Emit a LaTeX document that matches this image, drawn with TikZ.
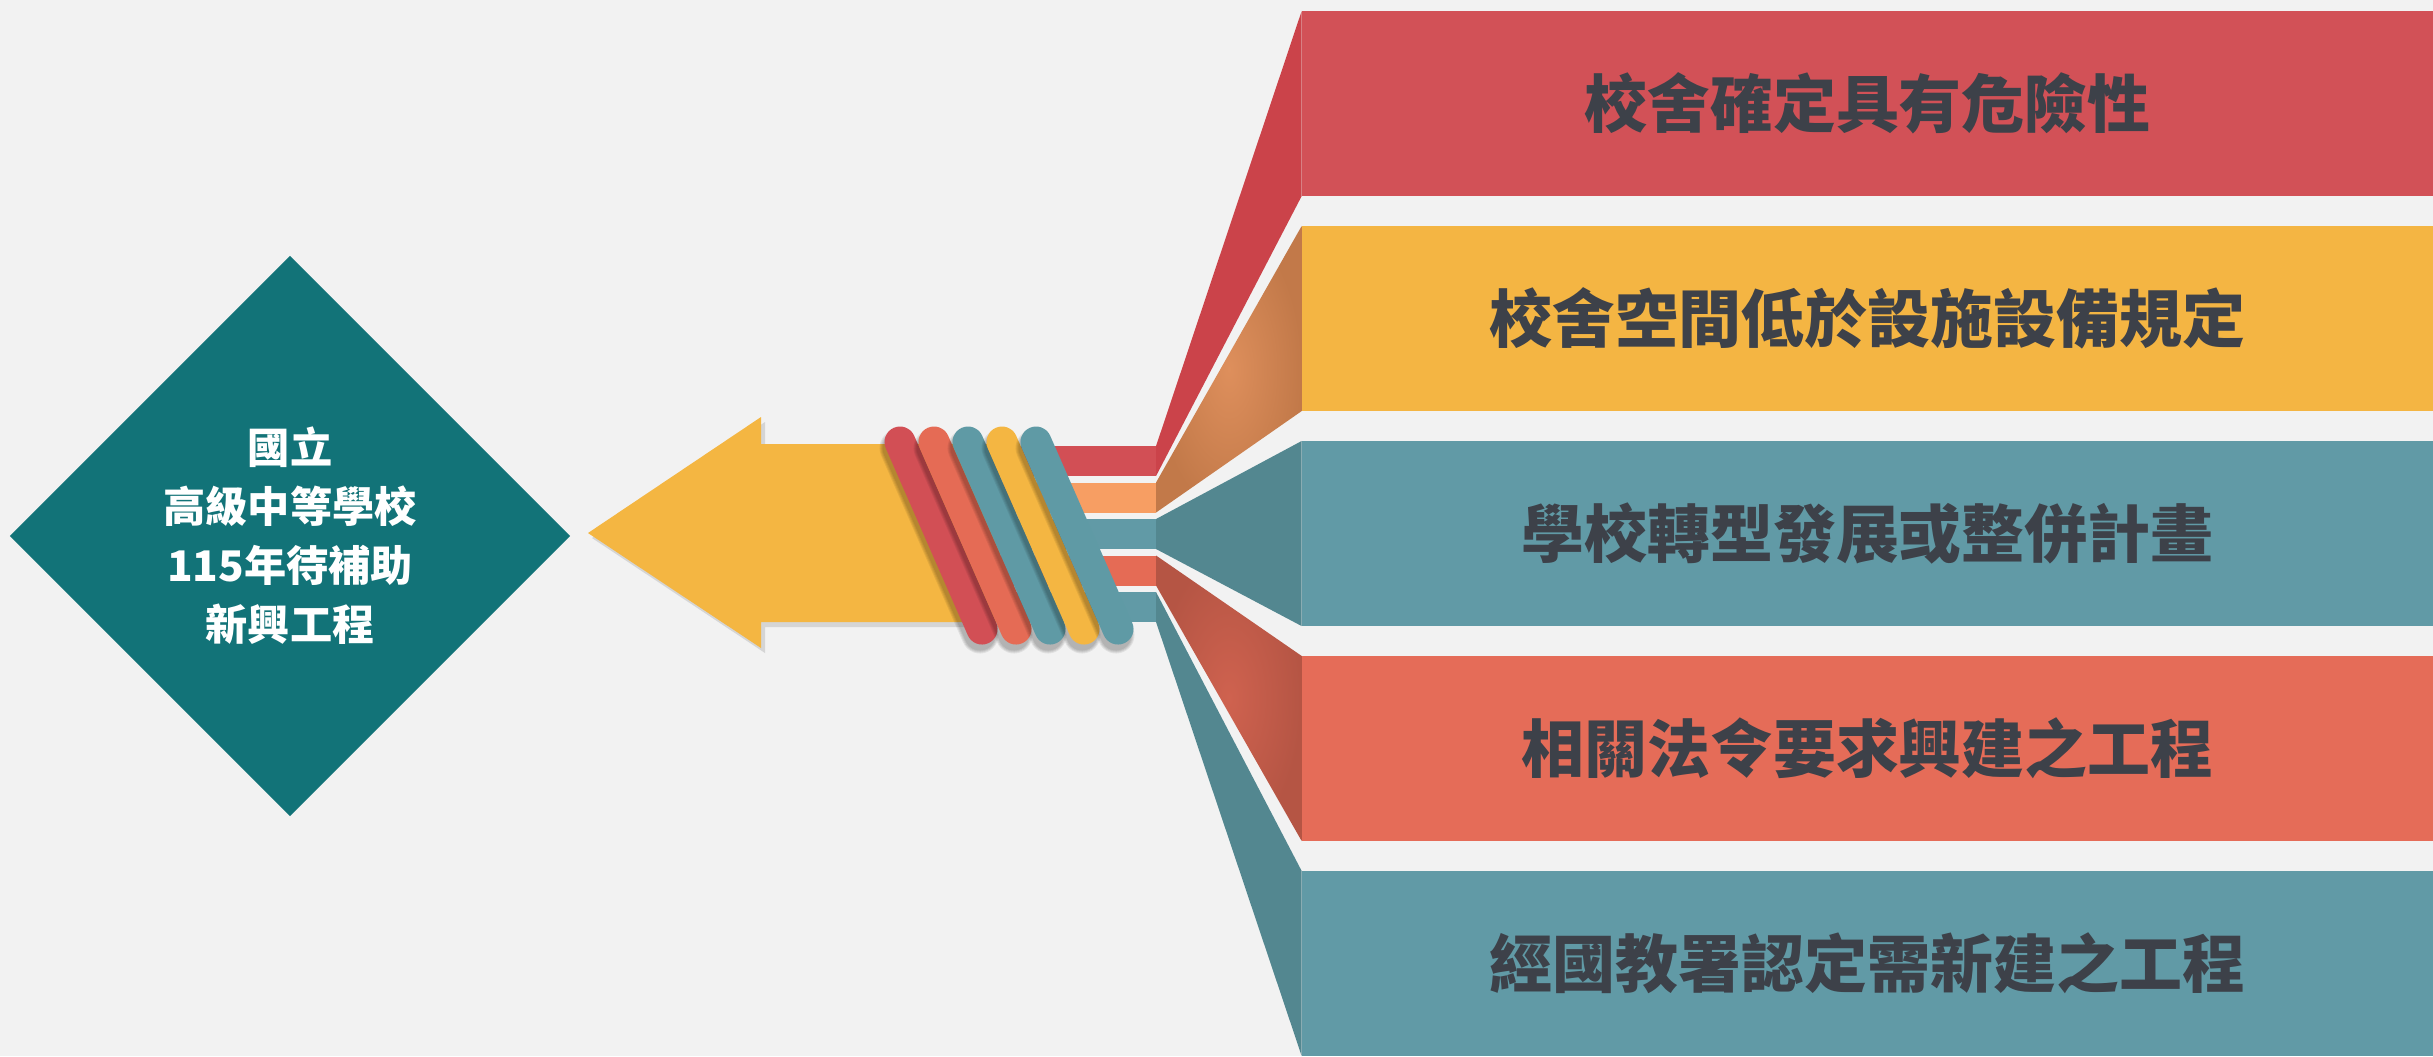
\documentclass[tikz,border=0pt]{standalone}
\usepackage{fontspec}
\newfontfamily\cjk{Noto Sans CJK TC}
\usetikzlibrary{shapes.geometric,shadows}
\definecolor{bg}{HTML}{F2F2F2}
\definecolor{hubteal}{HTML}{127378}
\definecolor{boxred}{HTML}{D25157}
\definecolor{fanred}{HTML}{CB434A}
\definecolor{boxyellow}{HTML}{F4B543}
\definecolor{boxteal}{HTML}{619AA6}
\definecolor{fanteal}{HTML}{538790}
\definecolor{boxcoral}{HTML}{E56C58}
\definecolor{stred}{HTML}{D24F55}
\definecolor{storange}{HTML}{F79E63}
\definecolor{stcoral}{HTML}{E56B55}
\definecolor{bandteal}{HTML}{5F9AA5}
\definecolor{arrowyellow}{HTML}{F4B642}
\definecolor{txt}{HTML}{3D4149}
\begin{document}
\begin{tikzpicture}[x=0.01cm,y=-0.01cm,
  infobox/.style={rectangle,inner sep=0pt,outer sep=0pt,minimum width=11.31cm,minimum height=1.85cm,
    text=txt,font=\cjk\bfseries\fontsize{17.9pt}{20pt}\selectfont},
  stripe/.style={rectangle,inner sep=0pt,outer sep=0pt,minimum width=1.56cm,minimum height=0.30cm},
  band/.style={line width=0.31cm,line cap=round},
  bandshadow/.style={line cap=round,black,opacity=0.07}]
\fill[bg] (0,0) rectangle (2433,1056);
\useasboundingbox (0,0) rectangle (2433,1056);

% hub diamond
\node[diamond,fill=hubteal,minimum width=5.6cm,minimum height=5.6cm,inner sep=0pt,outer sep=0pt,
  text=white,align=center,font=\cjk\bfseries\fontsize{12pt}{16.8pt}\selectfont] (hub) at (290,536)
  {國立\\高級中等學校\\115年待補助\\新興工程};

% arrow
\fill[arrowyellow,drop shadow={shadow xshift=0.04cm,shadow yshift=-0.05cm,opacity=0.25}]
  (588,533) -- (761,417) -- (761,444) -- (1000,444) -- (1000,622) -- (761,622) -- (761,648) -- cycle;
\coordinate (tip) at (588,533);

% stripes
\node[stripe,fill=stred]    (s1) at (1078,461) {};
\node[stripe,fill=storange] (s2) at (1078,497.5) {};
\node[stripe,fill=boxteal]  (s3) at (1078,534) {};
\node[stripe,fill=stcoral]  (s4) at (1078,570.5) {};
\node[stripe,fill=boxteal]  (s5) at (1078,607) {};

% diagonal bands
\foreach \k/\c in {0/stred,1/stcoral,2/bandteal,3/arrowyellow,4/bandteal}{
  \pgfmathsetmacro{\xa}{900+34*\k}
  \pgfmathsetmacro{\xb}{982+34*\k}
  \foreach \w in {0.31,0.33,0.35,0.37}{
    \draw[bandshadow,line width=\w cm] (\xa-2,448) -- (\xb-2,635);
  }
  \draw[band,\c] (\xa,442) -- (\xb,629);
}

% boxes
\node[infobox,fill=boxred]    (b1) at (1867.5,103.5) {校舍確定具有危險性};
\node[infobox,fill=boxyellow] (b2) at (1867.5,318.5) {校舍空間低於設施設備規定};
\node[infobox,fill=boxteal]   (b3) at (1867.5,533.5) {學校轉型發展或整併計畫};
\node[infobox,fill=boxcoral]  (b4) at (1867.5,748.5) {相關法令要求興建之工程};
\node[infobox,fill=boxteal]   (b5) at (1867.5,963.5) {經國教署認定需新建之工程};

% fans
\fill[fanred] (s1.north east) -- (b1.north west) -- (b1.south west) -- (s1.south east) -- cycle;
\shade[inner color={rgb,255:red,222;green,143;blue,92},outer color={rgb,255:red,194;green,121;blue,73}]
  (s2.north east) -- (b2.north west) -- (b2.south west) -- (s2.south east) -- cycle;
\fill[fanteal] (s3.north east) -- (b3.north west) -- (b3.south west) -- (s3.south east) -- cycle;
\shade[inner color={rgb,255:red,207;green,98;blue,79},outer color={rgb,255:red,181;green,85;blue,68}]
  (s4.north east) -- (b4.north west) -- (b4.south west) -- (s4.south east) -- cycle;
\fill[fanteal] (s5.north east) -- (b5.north west) -- (b5.south west) -- (s5.south east) -- cycle;
\end{tikzpicture}
\end{document}
